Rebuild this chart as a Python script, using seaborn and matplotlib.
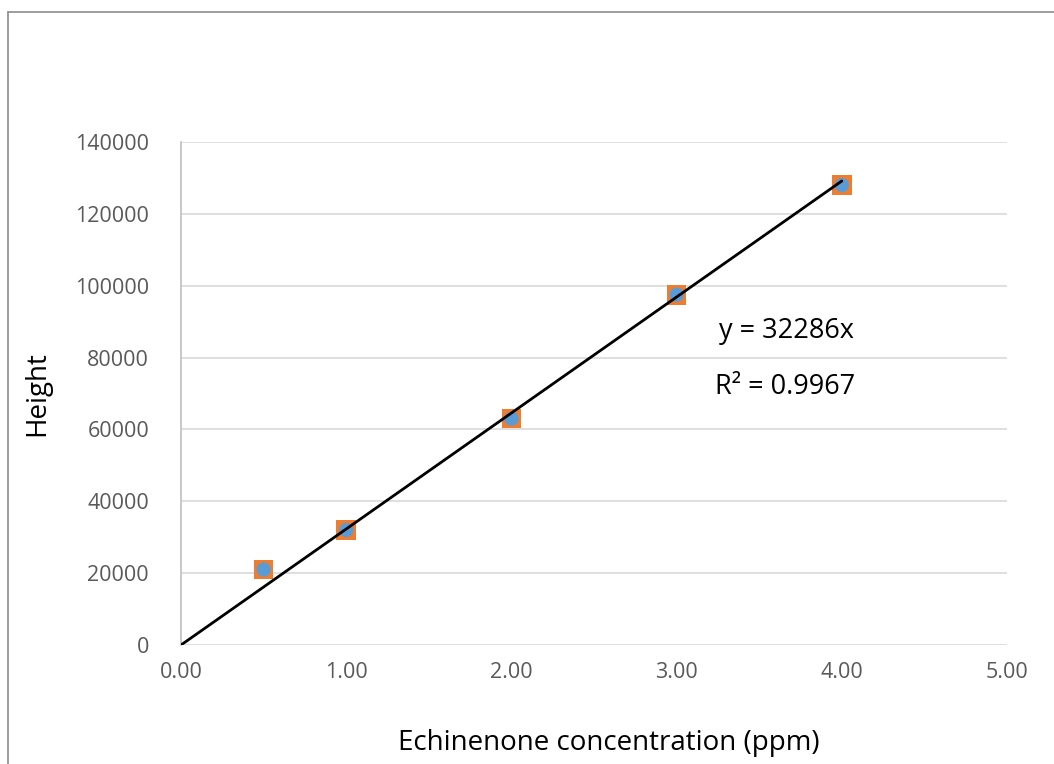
import matplotlib
matplotlib.use("Agg")
import matplotlib.pyplot as plt
import seaborn as sns
import numpy as np
import pandas as pd
from matplotlib.lines import Line2D

# Data
concentration = [0.5, 1.0, 2.0, 3.0, 4.0]
height = [21000, 32000, 63000, 97500, 128000]
slope = 32286
r_squared = 0.9967
x_ticks = [0, 1, 2, 3, 4, 5]
y_ticks = [0, 20000, 40000, 60000, 80000, 100000, 120000, 140000]

sns.set_theme(style="white")
plt.rcParams['font.family'] = ['Open Sans', 'DejaVu Sans']

df = pd.DataFrame({"conc": concentration, "height": height})
fit_x = np.array([0.0, max(concentration)])
fit_df = pd.DataFrame({"conc": fit_x, "height": slope * fit_x})

fig = plt.figure(figsize=(10.54, 7.64), dpi=100)
ax = fig.add_axes([181/1054, 1 - 645/764, (1007-181)/1054, (645-142)/764])

# gridlines
for yv in y_ticks:
    ax.axhline(yv, color="#D9D9D9", lw=1.2, zorder=0)

sns.scatterplot(data=df, x="conc", y="height", marker="s", s=200, color="#ED7D31",
                edgecolor="none", ax=ax, zorder=3)
sns.scatterplot(data=df, x="conc", y="height", marker="o", s=105, color="#5B9BD5",
                edgecolor="none", ax=ax, zorder=4)
sns.lineplot(data=fit_df, x="conc", y="height", color="black", lw=2.0, ax=ax, zorder=5)

ax.set_xlim(0, 5)
ax.set_ylim(0, 140000)
ax.set_xticks(x_ticks)
ax.set_xticklabels([f"{v:.2f}" for v in x_ticks])
ax.set_yticks(y_ticks)
ax.set_yticklabels([str(v) for v in y_ticks])
ax.tick_params(axis="both", length=0, labelsize=15.5, labelcolor="#595959")
ax.tick_params(axis="x", pad=12)
ax.tick_params(axis="y", pad=23)

for s in ["top", "right", "bottom"]:
    ax.spines[s].set_visible(False)
ax.spines["left"].set_color("#BFBFBF")
ax.spines["left"].set_linewidth(1.2)

ax.set_xlabel("Echinenone concentration (ppm)", fontsize=20, color="black")
ax.xaxis.set_label_coords(0.518, -0.195)
ax.xaxis.label.set_va("center")
ax.set_ylabel("Height", fontsize=20, color="black", labelpad=17)

ax.text(0.651, 0.625, f"y = {slope}x", transform=ax.transAxes, fontsize=19.5, color="black",
        ha="left", va="center")
ax.text(0.646, 0.513, f"R² = {r_squared}", transform=ax.transAxes, fontsize=19.5, color="black",
        ha="left", va="center")

# outer chart border (left and top edges visible)
fig.add_artist(Line2D([8/1054, 8/1054], [0, 1 - 12/764], transform=fig.transFigure,
                      color="#8C8C8C", lw=1.2))
fig.add_artist(Line2D([8/1054, 1], [1 - 12/764, 1 - 12/764], transform=fig.transFigure,
                      color="#8C8C8C", lw=1.2))

fig.savefig("out.png", dpi=100)
